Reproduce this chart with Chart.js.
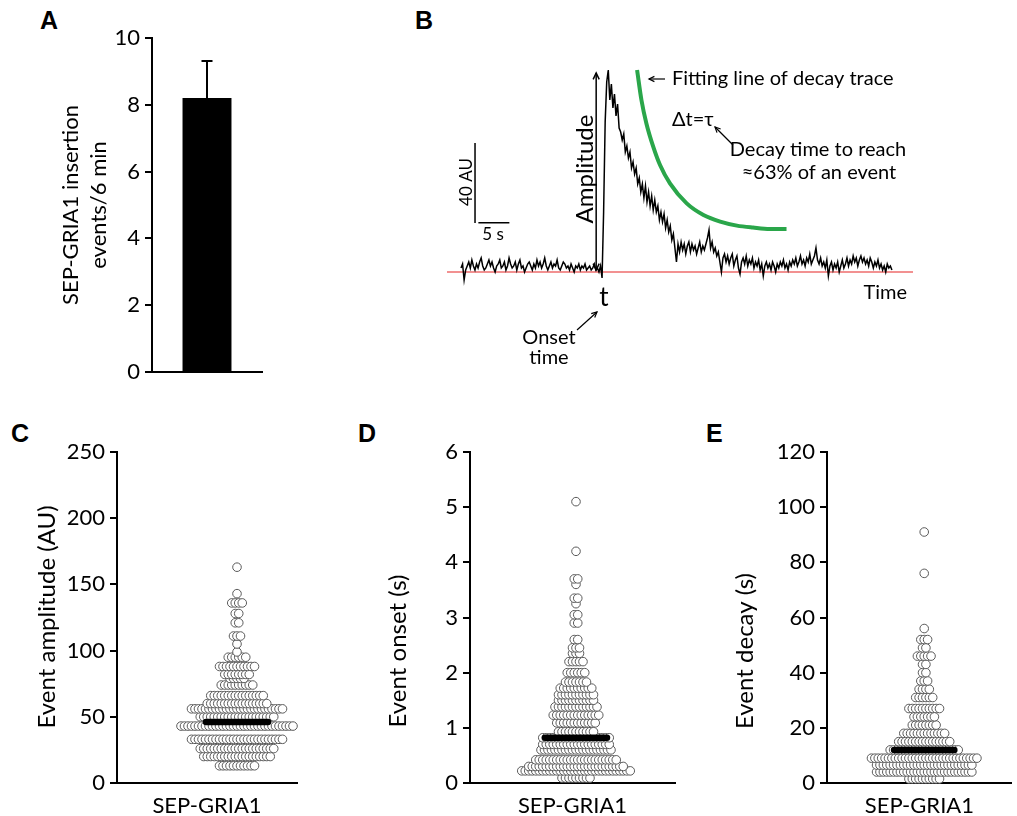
<!DOCTYPE html>
<html><head><meta charset="utf-8">
<script src="https://cdn.jsdelivr.net/npm/chart.js@4.4.1/dist/chart.umd.min.js"></script>
<style>
html,body{margin:0;padding:0;background:#fff}
body{width:1017px;height:816px;position:relative;overflow:hidden}
canvas{position:absolute}
.lbl{position:absolute;font:bold 25px "Liberation Sans",Arial,sans-serif;color:#000;line-height:25px}
</style></head><body>
<div class="lbl" style="left:40px;top:8px">A</div>
<div class="lbl" style="left:415px;top:8px">B</div>
<div class="lbl" style="left:11px;top:421px">C</div>
<div class="lbl" style="left:358px;top:421px">D</div>
<div class="lbl" style="left:706px;top:421px">E</div>
<canvas id="cA" width="300" height="400" style="left:0;top:0"></canvas>
<canvas id="cB" width="597" height="340" style="left:420px;top:40px"></canvas>
<canvas id="cC" width="350" height="396" style="left:0;top:420px"></canvas>
<canvas id="cD" width="357" height="396" style="left:350px;top:420px"></canvas>
<canvas id="cE" width="310" height="396" style="left:707px;top:420px"></canvas>
<script>
// ---------- DATA ----------
const categories = ['SEP-GRIA1'];
// Panel A
const insertionMean = [8.2];
const insertionErr = [1.11];
const insertionTicks = [0, 2, 4, 6, 8, 10];
// Panel B (example trace, AU above baseline, sampled every 0.25 s)
const traceStep = 0.25;
const traceBaseline = [2,4,-4,1,3,5,2,6,3,1, 4,2,5,7,3,1,2,4,6,3, 5,2,0,3,4,6,2,3,5,1, 3,7,4,2,3,5,1,4,6,2,
  3,0,2,4,5,3,1,4,2,6, 3,5,2,4,7,3,1,3,5,2, 4,3,6,2,1,3,5,4,2,3, 1,4,2,0,3,2,4,1,3,2, 4,1,2,3,1,2,4,1,2,0, 3];
const traceEvent = [-3,30,75,95,101,86,94,82,89,78, 84,72,70,66,69,60,63,57,60,52, 55,49,52,44,47,40,44,37,43,35,
  40,33,38,31,36,30,33,26,30,25, 29,22,26,20,23,16,19,12,5,14, 10,15,11,14,9,13,15,10,14,11,
  13,9,12,15,10,13,11,14,17,21, 12,15,10,12,8,10,5,0,7,9, 5,8,4,7,9,3,6,8,2,-1,
  5,7,4,8,3,6,4,7,2,5, 3,6,1,4,-2,3,5,2,4,1, 5,3,0,4,2,5,3,6,2,4,
  1,5,3,6,4,7,3,5,8,4, 6,3,7,5,9,4,6,8,12,6, 4,7,3,5,2,6,-2,3,5,1,
  4,2,5,0,3,6,2,4,7,3, 6,4,8,5,7,3,6,8,5,7, 4,6,3,7,5,2,5,3,6,2, 4,1,3,0,4,2,3,1];
const fitTimes = [28.4,29.1,29.9,31.0,32.1,33.7,36.4,39.1,41.8,44.5,47.1,49.8,52.5];
const fitValues = [101,86,74.3,62.7,53.5,44.3,34.3,28.5,25.2,23.2,22.2,21.5,21.5];
const onsetTime = 22.7;
const peakAmplitude = 100;
// Panel C
const amplitudeLevels = [13,20,26,33,43,50,56,60,66,74,79,82,88,95,99,105,111,121,128,136,143,163];
const amplitudeCounts = [11,20,22,27,33,22,27,18,16,10,5,8,11,6,1,1,3,2,2,4,1,1];
const amplitudeMean = 46;
const amplitudeTicks = [0,50,100,150,200,250];
// Panel D
const onsetLevels = [0.09,0.22,0.3,0.42,0.6,0.7,0.82,0.93,1.09,1.23,1.38,1.5,1.6,1.72,1.83,2.0,2.2,2.35,2.45,2.6,2.9,3.05,3.25,3.35,3.6,3.7,4.2,5.1];
const onsetCounts = [9,32,28,24,21,20,20,11,12,14,13,11,11,10,7,6,5,3,3,2,2,2,1,2,1,2,1,1];
const onsetMean = 0.82;
const onsetTicks = [0,1,2,3,4,5,6];
// Panel E
const decayLevels = [1.5,4,6.5,9,12,15,18,21,24,27,31,34,37,40,43,46,49,52,56,76,91];
const decayCounts = [10,29,29,32,21,16,13,8,7,10,6,4,3,2,2,5,2,3,1,1,1];
const decayMean = 12;
const decayTicks = [0,20,40,60,80,100,120];

// ---------- HELPERS ----------
const FONT = 'Lato, "Open Sans", sans-serif';
Chart.defaults.font.family = FONT;
Chart.defaults.color = '#000';

const textPlugin = {
  id: 'texts',
  afterDraw(chart, args, opts) {
    const ctx = chart.ctx;
    (opts.items || []).forEach(it => {
      ctx.save();
      ctx.fillStyle = '#000';
      ctx.font = it.font || ('20px ' + FONT);
      ctx.textAlign = it.align || 'center';
      ctx.textBaseline = 'middle';
      ctx.translate(it.x, it.y);
      if (it.rot) ctx.rotate(it.rot);
      ctx.fillText(it.text, 0, 0);
      ctx.restore();
    });
  }
};

function arrow(ctx, x1, y1, x2, y2, head, both) {
  ctx.beginPath(); ctx.moveTo(x1, y1); ctx.lineTo(x2, y2); ctx.stroke();
  const drawHead = (xa, ya, xb, yb) => {
    const a = Math.atan2(yb - ya, xb - xa);
    ctx.beginPath();
    ctx.moveTo(xb - head * Math.cos(a - 0.45), yb - head * Math.sin(a - 0.45));
    ctx.lineTo(xb, yb);
    ctx.lineTo(xb - head * Math.cos(a + 0.45), yb - head * Math.sin(a + 0.45));
    ctx.stroke();
  };
  drawHead(x1, y1, x2, y2);
  if (both) drawHead(x2, y2, x1, y1);
}

function yAxis(ticks, min, max, width) {
  return {
    type: 'linear', min, max,
    afterBuildTicks: s => { s.ticks = ticks.map(v => ({ value: v })); },
    afterFit: s => { s.width = width; },
    grid: { display: true, drawOnChartArea: false, drawTicks: true, tickLength: 7, color: '#000', lineWidth: 2 },
    border: { display: true, color: '#000', width: 2 },
    ticks: { color: '#000', font: { family: FONT, size: 22 }, padding: 5 }
  };
}

// ---------- PANEL A ----------
new Chart(document.getElementById('cA'), {
  type: 'bar',
  data: { labels: categories, datasets: [{ data: insertionMean, backgroundColor: '#000', borderWidth: 0, barPercentage: 0.445, categoryPercentage: 1 }] },
  options: {
    responsive: false, animation: false,
    layout: { padding: { top: 38, right: 38, left: 0, bottom: 0 } },
    plugins: {
      legend: { display: false }, tooltip: { enabled: false },
      texts: { items: [
        { text: 'SEP-GRIA1 insertion', x: 71, y: 205, rot: -Math.PI / 2, font: '22px ' + FONT },
        { text: 'events/6 min', x: 99, y: 205, rot: -Math.PI / 2, font: '22px ' + FONT }
      ] }
    },
    scales: {
      x: { grid: { display: false }, border: { display: true, color: '#000', width: 2 }, ticks: { display: false },
           afterFit: s => { s.height = 28; } },
      y: yAxis(insertionTicks, 0, 10, 152)
    }
  },
  plugins: [textPlugin, {
    id: 'errbar',
    afterDatasetsDraw(chart) {
      const ctx = chart.ctx, y = chart.scales.y;
      chart.getDatasetMeta(0).data.forEach((bar, i) => {
        const top = y.getPixelForValue(insertionMean[i] + insertionErr[i]);
        ctx.save(); ctx.strokeStyle = '#000'; ctx.lineWidth = 2;
        ctx.beginPath(); ctx.moveTo(bar.x, bar.y); ctx.lineTo(bar.x, top);
        ctx.moveTo(bar.x - 5.5, top); ctx.lineTo(bar.x + 5.5, top); ctx.stroke();
        ctx.restore();
      });
    }
  }]
});

// ---------- PANEL B ----------
const traceValues = traceBaseline.concat(traceEvent);
const traceData = traceValues.map((v, i) => ({ x: i * traceStep, y: v }));
const fitData = fitTimes.map((t, i) => ({ x: t, y: fitValues[i] }));
new Chart(document.getElementById('cB'), {
  type: 'line',
  data: { datasets: [
    { data: traceData, borderColor: '#000', borderWidth: 1.5, pointRadius: 0, tension: 0 },
    { data: fitData, borderColor: '#2aa64a', borderWidth: 4, pointRadius: 0, cubicInterpolationMode: 'monotone' }
  ] },
  options: {
    responsive: false, animation: false,
    layout: { padding: { left: 27, right: 104, top: 22, bottom: 88 } },
    plugins: {
      legend: { display: false }, tooltip: { enabled: false },
      texts: { items: [
        { text: 'Fitting line of decay trace', x: 252, y: 39, align: 'left', font: '20px ' + FONT },
        { text: 'Δt=τ', x: 252, y: 80, align: 'left', font: '20px ' + FONT },
        { text: 'Decay time to reach', x: 398, y: 110, font: '20px ' + FONT },
        { text: '≈63% of an event', x: 399, y: 133, font: '20px ' + FONT },
        { text: 't', x: 184, y: 258, font: '26px ' + FONT },
        { text: 'Time', x: 487, y: 253, align: 'right', font: '20px ' + FONT },
        { text: 'Onset', x: 129, y: 298, font: '20px ' + FONT },
        { text: 'time', x: 129, y: 318, font: '20px ' + FONT },
        { text: '40 AU', x: 47, y: 142, rot: -Math.PI / 2, font: '17px ' + FONT },
        { text: '5 s', x: 73, y: 195, font: '17px ' + FONT },
        { text: 'Amplitude', x: 165, y: 129, rot: -Math.PI / 2, font: '24px ' + FONT }
      ] }
    },
    scales: {
      x: { type: 'linear', min: -2.26, max: 72.9, display: false },
      y: { type: 'linear', min: -10, max: 105, display: false }
    }
  },
  plugins: [textPlugin, {
    id: 'decor',
    beforeDatasetsDraw(chart) {
      const ctx = chart.ctx, ca = chart.chartArea, y = chart.scales.y;
      ctx.save(); ctx.strokeStyle = '#ee6d6d'; ctx.lineWidth = 1.5;
      const y0 = y.getPixelForValue(0);
      ctx.beginPath(); ctx.moveTo(ca.left, y0); ctx.lineTo(ca.right, y0); ctx.stroke();
      ctx.restore();
    },
    afterDatasetsDraw(chart) {
      const ctx = chart.ctx, x = chart.scales.x, y = chart.scales.y;
      ctx.save(); ctx.strokeStyle = '#000'; ctx.lineWidth = 1.5;
      const sx = x.getPixelForValue(2.26);
      ctx.beginPath();
      ctx.moveTo(sx, y.getPixelForValue(24.5)); ctx.lineTo(sx, y.getPixelForValue(64.5));
      ctx.moveTo(x.getPixelForValue(2.8), y.getPixelForValue(24.6)); ctx.lineTo(x.getPixelForValue(7.8), y.getPixelForValue(24.6));
      ctx.stroke();
      const ax = x.getPixelForValue(onsetTime - 0.9);
      arrow(ctx, ax, y.getPixelForValue(1), ax, y.getPixelForValue(peakAmplitude - 0.5), 7, true);
      ctx.lineWidth = 1.2;
      arrow(ctx, 245, 39, 229, 39, 6, false);
      arrow(ctx, 313, 105, 295, 87, 6, false);
      arrow(ctx, 157, 290, 177, 272, 6, false);
      ctx.restore();
    }
  }]
});

// ---------- PANELS C, D, E ----------
function swarmPoints(levels, counts, step) {
  const order = levels.map((v, i) => i).sort((a, b) => levels[a] - levels[b]);
  const pts = [];
  order.forEach(i => {
    const n = counts[i];
    for (let k = 0; k < n; k++) pts.push({ x: (k - (n - 1) / 2) * step, y: levels[i] });
  });
  return pts;
}

function swarmChart(id, levels, counts, mean, ticks, ymax, axisW, left, right, padRight, title, titleX, titleY) {
  new Chart(document.getElementById(id), {
    type: 'scatter',
    data: { datasets: [
      { type: 'line', data: [{ x: -31, y: mean }, { x: 31, y: mean }], borderColor: '#000', borderWidth: 6.5,
        borderCapStyle: 'round', pointRadius: 0, order: 0, clip: false },
      { data: swarmPoints(levels, counts, 3.5), pointRadius: 4.3, pointBorderWidth: 1,
        pointBorderColor: '#5a5a5a', pointBackgroundColor: '#fff', order: 1, clip: false }
    ] },
    options: {
      responsive: false, animation: false,
      layout: { padding: { top: 32, right: padRight, left: 0, bottom: 0 } },
      plugins: { legend: { display: false }, tooltip: { enabled: false },
        texts: { items: [{ text: title, x: titleX, y: titleY, rot: -Math.PI / 2, font: '24px ' + FONT }] } },
      scales: {
        x: { type: 'linear', min: left, max: right,
             afterBuildTicks: s => { s.ticks = [{ value: (left + right) / 2 }]; },
             afterFit: s => { s.height = 33; },
             grid: { display: false, drawTicks: false },
             border: { display: true, color: '#000', width: 2 },
             ticks: { callback: () => categories[0], font: { family: FONT, size: 22 }, color: '#000', padding: 10, maxRotation: 0 } },
        y: yAxis(ticks, 0, ymax, axisW)
      }
    },
    plugins: [textPlugin]
  });
}

swarmChart('cC', amplitudeLevels, amplitudeCounts, amplitudeMean, amplitudeTicks, 250, 117, -120, 60, 53,
  'Event amplitude (AU)', 47, 197);
swarmChart('cD', onsetLevels, onsetCounts, onsetMean, onsetTicks, 6, 120, -106, 99, 32,
  'Event onset (s)', 48, 231);
swarmChart('cE', decayLevels, decayCounts, decayMean, decayTicks, 120, 120, -100, 90, 0,
  'Event decay (s)', 38, 231);
</script>
</body></html>
